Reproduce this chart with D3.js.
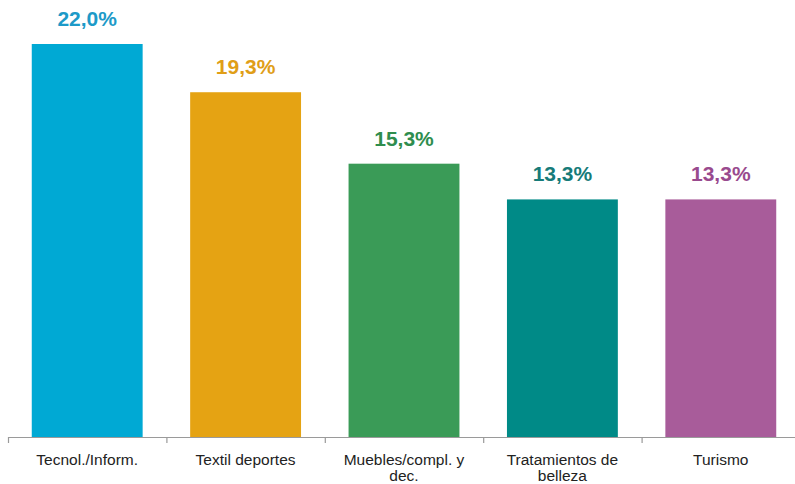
<!DOCTYPE html>
<html lang="es">
<head>
<meta charset="UTF-8">
<title>Sectores</title>
<script src="https://d3js.org/d3.v7.min.js"></script>
<style>
  body { margin: 0; background: #fff; }
  svg text { font-family: "Liberation Sans", Arial, Helvetica, sans-serif; }
</style>
</head>
<body>
<div id="chart"></div>
<script>
  // datos
  var categorias = ["Tecnol./Inform.", "Textil deportes", "Muebles/compl. y dec.", "Tratamientos de belleza", "Turismo"];
  var etiquetas = [["Tecnol./Inform."], ["Textil deportes"], ["Muebles/compl. y", "dec."], ["Tratamientos de", "belleza"], ["Turismo"]];
  var valores = [22.0, 19.3, 15.3, 13.3, 13.3];
  var coloresBarra = ["#00a9d4", "#e5a313", "#3a9b57", "#008a87", "#a85c9a"];
  var coloresTexto = ["#1d9ac8", "#e09e17", "#2f8d4e", "#167b79", "#994a8e"];

  var ancho = 795, alto = 484;
  var svg = d3.select("#chart").append("svg")
      .attr("width", ancho)
      .attr("height", alto);

  var x = d3.scaleBand()
      .domain(categorias)
      .range([8, 800])
      .paddingInner(0.3)
      .paddingOuter(0.15);

  var y = d3.scaleLinear()
      .domain([0, 22])
      .range([437, 44]);

  var datos = categorias.map(function(c, i) {
    return { cat: c, val: valores[i], lineas: etiquetas[i], color: coloresBarra[i], texto: coloresTexto[i] };
  });

  // barras
  svg.selectAll("rect.barra")
    .data(datos)
    .enter().append("rect")
      .attr("class", "barra")
      .attr("x", function(d) { return x(d.cat); })
      .attr("y", function(d) { return y(d.val); })
      .attr("width", x.bandwidth())
      .attr("height", function(d) { return y(0) - y(d.val); })
      .attr("fill", function(d) { return d.color; });

  // valores encima
  svg.selectAll("text.valor")
    .data(datos)
    .enter().append("text")
      .attr("class", "valor")
      .attr("x", function(d) { return x(d.cat) + x.bandwidth() / 2; })
      .attr("y", function(d) { return y(d.val) - 18; })
      .attr("text-anchor", "middle")
      .attr("font-size", "21px")
      .attr("font-weight", "bold")
      .attr("fill", function(d) { return d.texto; })
      .text(function(d) { return d3.format(".1f")(d.val).replace(".", ",") + "%"; });

  // eje x
  var eje = svg.append("g").attr("transform", "translate(0," + y(0) + ")");
  var inicio = x.range()[0], paso = x.step();
  eje.append("line")
      .attr("x1", inicio).attr("x2", x.range()[1])
      .attr("y1", 0.5).attr("y2", 0.5)
      .attr("stroke", "#9a9a9a").attr("stroke-width", 1.2);
  eje.selectAll("line.tick")
    .data(d3.range(categorias.length + 1))
    .enter().append("line")
      .attr("class", "tick")
      .attr("x1", function(i) { return inicio + i * paso + 0.5; })
      .attr("x2", function(i) { return inicio + i * paso + 0.5; })
      .attr("y1", 0).attr("y2", 6)
      .attr("stroke", "#9a9a9a").attr("stroke-width", 1.2);

  var etq = eje.selectAll("text.cat")
    .data(datos)
    .enter().append("text")
      .attr("class", "cat")
      .attr("text-anchor", "middle")
      .attr("font-size", "15.5px")
      .attr("fill", "#222");
  etq.selectAll("tspan")
    .data(function(d) { return d.lineas.map(function(l) { return { l: l, cx: x(d.cat) + x.bandwidth() / 2 }; }); })
    .enter().append("tspan")
      .attr("x", function(t) { return t.cx; })
      .attr("y", function(t, i) { return 28 + i * 16; })
      .text(function(t) { return t.l; });
</script>
</body>
</html>
